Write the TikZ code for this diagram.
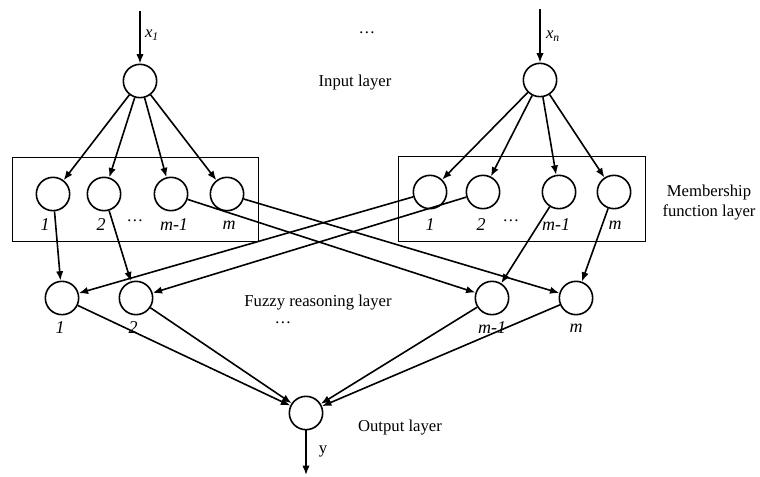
\documentclass[tikz,border=0pt]{standalone}
\usepackage{fontspec}
\setmainfont{Liberation Serif}
\usetikzlibrary{arrows.meta}

\begin{document}
\begin{tikzpicture}[x=0.75pt,y=-0.75pt,>={Latex[length=7pt,width=5.5pt]},font=\fontsize{12.5}{15}\selectfont,
  neuron/.style={circle,draw,line width=1.2pt,minimum size=25pt,inner sep=0pt},
  link/.style={->,line width=1.2pt},
  idx/.style={font=\fontsize{13.5}{15}\selectfont\itshape}]
  \useasboundingbox (0,0) rectangle (760,476);
  % input layer
  \node(in1) at (140,81) [neuron] {};
  \node(inn) at (540,80) [neuron] {};
  \coordinate(x1) at (140,11);
  \coordinate(xn) at (540,9);
  \node(x1lab) at (152,35) {\textit{x\textsubscript{1}}};
  \node(xnlab) at (553,36) {\textit{x\textsubscript{n}}};
  \node(indots) at (367,33) {\ldots};
  \node(inlayer) at (355,83) {Input layer};
  \draw[link] (x1) -- (in1);
  \draw[link] (xn) -- (inn);
  % membership function layer
  \draw[line width=0.6pt] (12,157) rectangle (258,241);
  \draw[line width=0.6pt] (398,156) rectangle (645,241);
  \node(lm1) at (53,194) [neuron] {};
  \node(lm2) at (104,194) [neuron] {};
  \node(lm3) at (171,194) [neuron] {};
  \node(lm4) at (227,194) [neuron] {};
  \node(rm1) at (430,192) [neuron] {};
  \node(rm2) at (483,192) [neuron] {};
  \node(rm3) at (559,192) [neuron] {};
  \node(rm4) at (614,192) [neuron] {};
  \node(lm1lab) at (45,225) [idx] {1};
  \node(lm2lab) at (101,225) [idx] {2};
  \node(lmdots) at (135,221) {\ldots};
  \node(lm3lab) at (174,225) [idx] {m-1};
  \node(lm4lab) at (229,225) [idx] {m};
  \node(rm1lab) at (430,225) [idx] {1};
  \node(rm2lab) at (481,225) [idx] {2};
  \node(rmdots) at (511,221) {\ldots};
  \node(rm3lab) at (556,225) [idx] {m-1};
  \node(rm4lab) at (615,225) [idx] {m};
  \node(mflayer)[align=center] at (709,203) {Membership\\function layer};
  \draw[link] (in1) -- (lm1);
  \draw[link] (in1) -- (lm2);
  \draw[link] (in1) -- (lm3);
  \draw[link] (in1) -- (lm4);
  \draw[link] (inn) -- (rm1);
  \draw[link] (inn) -- (rm2);
  \draw[link] (inn) -- (rm3);
  \draw[link] (inn) -- (rm4);
  % fuzzy reasoning layer
  \node(fz1) at (62,298) [neuron] {};
  \node(fz2) at (136,298) [neuron] {};
  \node(fz3) at (492,298) [neuron] {};
  \node(fz4) at (576,298) [neuron] {};
  \node(fz1lab) at (60,328) [idx] {1};
  \node(fz2lab) at (133,328) [idx] {2};
  \node(fzdots) at (283,323) {\ldots};
  \node(fz3lab) at (492,328) [idx] {m-1};
  \node(fz4lab) at (576,328) [idx] {m};
  \node(fzlayer) at (318,303) {Fuzzy reasoning layer};
  \draw[link] (lm1) -- (fz1);
  \draw[link] (lm2) -- (fz2);
  \draw[link] (lm3) -- (fz3);
  \draw[link] (lm4) -- (fz4);
  \draw[link] (rm1) -- (fz1);
  \draw[link] (rm2) -- (fz2);
  \draw[link] (rm3) -- (fz3);
  \draw[link] (rm4) -- (fz4);
  % output layer
  \node(out) at (306,413) [neuron] {};
  \coordinate(y) at (306,475);
  \node(ylab) at (323,451) {y};
  \node(outlayer) at (400,428) {Output layer};
  \draw[link] (fz1) -- (out);
  \draw[link] (fz2) -- (out);
  \draw[link] (fz3) -- (out);
  \draw[link] (fz4) -- (out);
  \draw[link] (out) -- (y);
\end{tikzpicture}
\end{document}
